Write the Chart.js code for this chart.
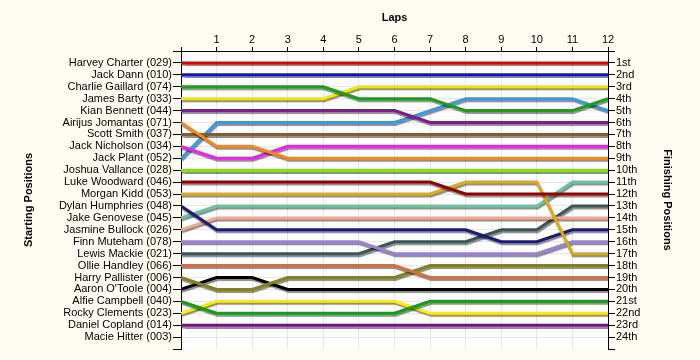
<!DOCTYPE html>
<html>
<head>
<meta charset="utf-8">
<script src="https://cdn.jsdelivr.net/npm/chart.js@4.4.1/dist/chart.umd.min.js"></script>
<style>
  html, body { margin: 0; padding: 0; background: #fffdf2; }
  #wrap { width: 700px; height: 360px; }
</style>
</head>
<body>
<div id="wrap"><canvas id="lapChart" width="700" height="360"></canvas></div>
<script>
// Lap numbers along the top axis (lap 0 = grid)
const laps = [0, 1, 2, 3, 4, 5, 6, 7, 8, 9, 10, 11, 12];
const lapLabels = ['1', '2', '3', '4', '5', '6', '7', '8', '9', '10', '11', '12'];

// Drivers in starting order
const drivers = [
  'Harvey Charter (029)', 'Jack Dann (010)', 'Charlie Gaillard (074)', 'James Barty (033)',
  'Kian Bennett (044)', 'Airijus Jomantas (071)', 'Scott Smith (037)', 'Jack Nicholson (034)',
  'Jack Plant (052)', 'Joshua Vallance (028)', 'Luke Woodward (046)', 'Morgan Kidd (053)',
  'Dylan Humphries (048)', 'Jake Genovese (045)', 'Jasmine Bullock (026)', 'Finn Muteham (078)',
  'Lewis Mackie (021)', 'Ollie Handley (066)', "Harry Pallister (006)", "Aaron O'Toole (004)",
  'Alfie Campbell (040)', 'Rocky Clements (023)', 'Daniel Copland (014)', 'Macie Hitter (003)'
];

// Finishing position labels
const finishLabels = [
  '1st', '2nd', '3rd', '4th', '5th', '6th', '7th', '8th', '9th', '10th', '11th', '12th',
  '13th', '14th', '15th', '16th', '17th', '18th', '19th', '20th', '21st', '22nd', '23rd', '24th'
];

// Race position at the end of each lap (lap 0 .. lap 12)
const harveyCharter   = [1, 1, 1, 1, 1, 1, 1, 1, 1, 1, 1, 1, 1];
const jackDann        = [2, 2, 2, 2, 2, 2, 2, 2, 2, 2, 2, 2, 2];
const charlieGaillard = [3, 3, 3, 3, 3, 4, 4, 4, 5, 5, 5, 5, 4];
const jamesBarty      = [4, 4, 4, 4, 4, 3, 3, 3, 3, 3, 3, 3, 3];
const kianBennett     = [5, 5, 5, 5, 5, 5, 5, 6, 6, 6, 6, 6, 6];
const airijusJomantas = [6, 8, 8, 9, 9, 9, 9, 9, 9, 9, 9, 9, 9];
const scottSmith      = [7, 7, 7, 7, 7, 7, 7, 7, 7, 7, 7, 7, 7];
const jackNicholson   = [8, 9, 9, 8, 8, 8, 8, 8, 8, 8, 8, 8, 8];
const jackPlant       = [9, 6, 6, 6, 6, 6, 6, 5, 4, 4, 4, 4, 5];
const joshuaVallance  = [10, 10, 10, 10, 10, 10, 10, 10, 10, 10, 10, 10, 10];
const lukeWoodward    = [11, 11, 11, 11, 11, 11, 11, 11, 12, 12, 12, 12, 12];
const morganKidd      = [12, 12, 12, 12, 12, 12, 12, 12, 11, 11, 11, 17, 17];
const dylanHumphries  = [13, 15, 15, 15, 15, 15, 15, 15, 15, 16, 16, 15, 15];
const jakeGenovese    = [14, 13, 13, 13, 13, 13, 13, 13, 13, 13, 13, 11, 11];
const jasmineBullock  = [15, 14, 14, 14, 14, 14, 14, 14, 14, 14, 14, 14, 14];
const finnMuteham     = [16, 16, 16, 16, 16, 16, 17, 17, 17, 17, 17, 16, 16];
const lewisMackie     = [17, 17, 17, 17, 17, 17, 16, 16, 16, 15, 15, 13, 13];
const ollieHandley    = [18, 18, 18, 18, 18, 18, 18, 19, 19, 19, 19, 19, 19];
const harryPallister  = [19, 20, 20, 19, 19, 19, 19, 18, 18, 18, 18, 18, 18];
const aaronOToole     = [20, 19, 19, 20, 20, 20, 20, 20, 20, 20, 20, 20, 20];
const alfieCampbell   = [21, 22, 22, 22, 22, 22, 22, 21, 21, 21, 21, 21, 21];
const rockyClements   = [22, 21, 21, 21, 21, 21, 21, 22, 22, 22, 22, 22, 22];
const danielCopland   = [23, 23, 23, 23, 23, 23, 23, 23, 23, 23, 23, 23, 23];
const macieHitter     = [null, null, null, null, null, null, null, null, null, null, null, null, null];

const positionSeries = [
  harveyCharter, jackDann, charlieGaillard, jamesBarty, kianBennett, airijusJomantas,
  scottSmith, jackNicholson, jackPlant, joshuaVallance, lukeWoodward, morganKidd,
  dylanHumphries, jakeGenovese, jasmineBullock, finnMuteham, lewisMackie, ollieHandley,
  harryPallister, aaronOToole, alfieCampbell, rockyClements, danielCopland, macieHitter
];

// Line colour for each driver
const lineColors = [
  '#e00000', '#1212cc', '#17a017', '#f5e400', '#7d1d8d', '#f7861c',
  '#8b5a2b', '#f020f0', '#3a98ea', '#84e000', '#920000', '#dcaa1e',
  '#1c1c78', '#66c4a4', '#f5a88c', '#9b80d8', '#3a5656', '#d5703e',
  '#858218', '#000000', '#12a012', '#ffec00', '#7a0a8a', '#999999'
];

const datasets = drivers.map((name, i) => ({
  label: name,
  data: positionSeries[i].map((p, k) => ({ x: laps[k], y: p })),
  borderColor: lineColors[i],
  backgroundColor: lineColors[i],
  borderWidth: 3,
  pointRadius: 0,
  pointHoverRadius: 0,
  tension: 0,
  fill: false,
  spanGaps: false
}));

const FONT = { family: '"Liberation Sans", Arial, sans-serif', size: 11 };
const TITLE_FONT = { family: '"Liberation Sans", Arial, sans-serif', size: 11, weight: 'bold' };
const GRID = '#e6e6e6';

// Page background outside the plot, white inside it
const backdrop = {
  id: 'backdrop',
  beforeDraw(chart) {
    const { ctx, chartArea: a } = chart;
    ctx.save();
    ctx.fillStyle = '#fffdf2';
    ctx.fillRect(0, 0, chart.width, chart.height);
    ctx.fillStyle = '#ffffff';
    ctx.fillRect(a.left, a.top, a.right - a.left, a.bottom - a.top);
    ctx.restore();
  }
};

// Soft drop shadow under every line
const lineShadow = {
  id: 'lineShadow',
  beforeDatasetDraw(chart) {
    const ctx = chart.ctx;
    ctx.save();
    ctx.shadowColor = 'rgba(0,0,0,0.45)';
    ctx.shadowOffsetX = 1;
    ctx.shadowOffsetY = 2;
    ctx.shadowBlur = 1;
  },
  afterDatasetDraw(chart) {
    chart.ctx.restore();
  }
};

new Chart(document.getElementById('lapChart'), {
  type: 'line',
  data: { datasets },
  plugins: [backdrop, lineShadow],
  options: {
    responsive: false,
    animation: false,
    layout: { padding: { left: 0, right: 0, top: 0, bottom: 11 } },
    plugins: {
      legend: { display: false },
      tooltip: { enabled: false }
    },
    scales: {
      x: {
        type: 'linear',
        position: 'top',
        min: 0,
        max: 12,
        afterFit(scale) { scale.height = 51; },
        ticks: {
          stepSize: 1,
          autoSkip: false,
          maxRotation: 0,
          padding: 0,
          color: '#000',
          font: FONT,
          callback: v => (v >= 1 && v <= 12) ? lapLabels[v - 1] : ''
        },
        grid: { color: GRID, tickColor: '#000', tickLength: 4, lineWidth: 1 },
        border: { color: '#000', width: 1 },
        title: { display: true, text: 'Laps', color: '#000', font: TITLE_FONT, padding: { top: 11, bottom: 0 } }
      },
      y: {
        type: 'linear',
        position: 'left',
        reverse: true,
        min: 0,
        max: 25,
        afterFit(scale) { scale.width = 181; },
        ticks: {
          stepSize: 1,
          autoSkip: false,
          padding: 1,
          color: '#000',
          font: FONT,
          callback: v => (v >= 1 && v <= 24) ? drivers[v - 1] : ''
        },
        grid: {
          color: c => (c.tick && (c.tick.value === 25 || c.tick.value === 0)) ? 'rgba(0,0,0,0)' : GRID,
          tickColor: '#000',
          tickLength: 8,
          lineWidth: 1
        },
        border: { color: '#000', width: 1 },
        title: { display: true, text: 'Starting Positions', color: '#000', font: TITLE_FONT, padding: { top: 22, bottom: 0 } }
      },
      y2: {
        type: 'linear',
        position: 'right',
        reverse: true,
        min: 0,
        max: 25,
        afterFit(scale) { scale.width = 92; },
        ticks: {
          stepSize: 1,
          autoSkip: false,
          padding: 1,
          color: '#000',
          font: FONT,
          callback: v => (v >= 1 && v <= 24) ? finishLabels[v - 1] : ''
        },
        grid: { drawOnChartArea: false, tickColor: '#000', tickLength: 7 },
        border: { color: '#000', width: 1 },
        title: { display: true, text: 'Finishing Positions', color: '#000', font: TITLE_FONT, padding: { top: 26, bottom: 0 } }
      }
    }
  }
});
</script>
</body>
</html>
